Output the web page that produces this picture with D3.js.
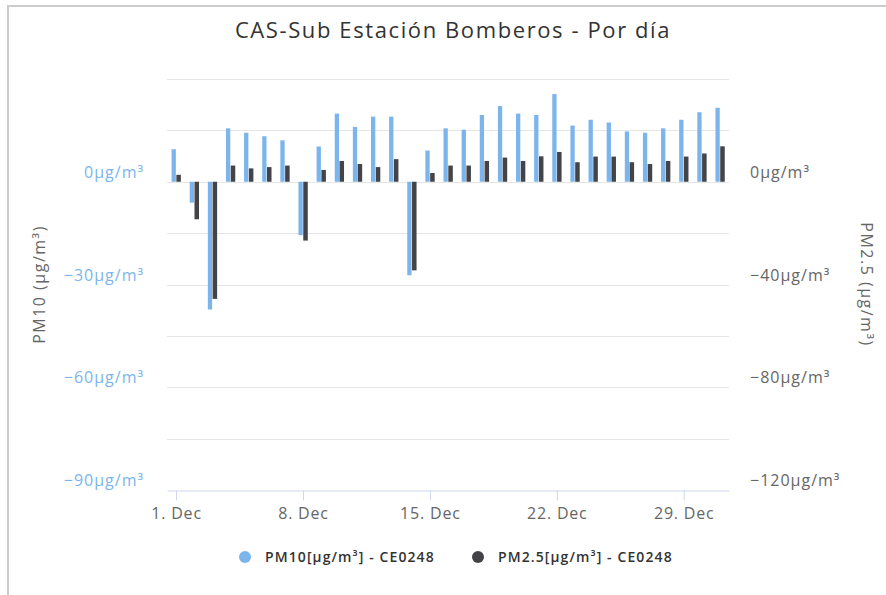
<!DOCTYPE html>
<html>
<head>
<meta charset="utf-8">
<script src="https://cdn.jsdelivr.net/npm/d3@7"></script>
<style>
  body { margin: 0; background: #fff; }
  text { font-family: "Open Sans", "DejaVu Sans", sans-serif; }
</style>
</head>
<body>
<script>
// days of December
const days = [1, 2, 3, 4, 5, 6, 7, 8, 9, 10, 11, 12, 13, 14, 15, 16,
              17, 18, 19, 20, 21, 22, 23, 24, 25, 26, 27, 28, 29, 30, 31]
const pm10 = [9.5, -6.1, -37.3, 15.6, 14.3, 13.3, 12.1, -15.6, 10.3, 19.9, 16.0,
              19.0, 19.0, -27.3, 9.1, 15.6, 15.2, 19.5, 22.1, 19.9, 19.5, 25.6,
              16.4, 18.1, 17.3, 14.7, 14.3, 15.6, 18.1, 20.3, 21.6]
const pm25 = [2.7, -14.6, -45.6, 6.3, 5.2, 5.7, 6.3, -22.9, 4.6, 8.1, 6.9, 5.7,
              8.8, -34.5, 3.4, 6.3, 6.3, 8.1, 9.4, 8.1, 9.9, 11.6, 7.6, 9.8, 9.8,
              7.6, 6.9, 8.1, 9.8, 11.0, 13.8]
const xTickDays = [1, 8, 15, 22, 29]
const leftTicks = [0, -30, -60, -90]
const rightTicks = [0, -40, -80, -120]
const gridTicks = [30, 15, 0, -15, -30, -45, -60, -75, -90]
const seriesNames = ["PM10[µg/m³] - CE0248", "PM2.5[µg/m³] - CE0248"]
const colors = ["#7cb5ec", "#434348"]

const width = 886, height = 595
const margin = {top: 79, right: 157, bottom: 105, left: 167}

const svg = d3.select("body").append("svg")
  .attr("width", width)
  .attr("height", height)

// frame
svg.append("path")
  .attr("d", "M8,600 V6 H900")
  .attr("fill", "none")
  .attr("stroke", "#cccccc")
  .attr("stroke-width", 2)

const day = d => new Date(Date.UTC(2019, 11, d, 12))

const xScale = d3.scaleUtc()
  .domain([new Date(Date.UTC(2019, 11, 1, 0)), new Date(Date.UTC(2019, 11, 32, 0))])
  .range([margin.left, width - margin.right])

const yLeft = d3.scaleLinear()
  .domain([-90, 30])
  .range([height - margin.bottom, margin.top])

const yRight = d3.scaleLinear()
  .domain([-120, 40])
  .range([height - margin.bottom, margin.top])

// grid
svg.append("g")
  .selectAll("line")
  .data(gridTicks.filter(d => d > -90))
  .join("line")
  .attr("x1", margin.left)
  .attr("x2", width - margin.right)
  .attr("y1", d => Math.round(yLeft(d)) + 0.5)
  .attr("y2", d => Math.round(yLeft(d)) + 0.5)
  .attr("stroke", "#e6e6e6")

const fmt = d => (d < 0 ? "−" + Math.abs(d) : d) + "µg/m³"

// left labels
svg.append("g")
  .selectAll("text")
  .data(leftTicks)
  .join("text")
  .attr("x", 144)
  .attr("y", d => yLeft(d) - 4)
  .attr("text-anchor", "end")
  .attr("fill", "#7cb5ec")
  .style("font-size", "16px")
  .style("letter-spacing", "1px")
  .text(fmt)

// right labels
svg.append("g")
  .selectAll("text")
  .data(rightTicks)
  .join("text")
  .attr("x", 750)
  .attr("y", d => yRight(d) - 4)
  .attr("text-anchor", "start")
  .attr("fill", "#666666")
  .style("font-size", "16px")
  .style("letter-spacing", "1px")
  .text(fmt)

// axis titles
const midY = margin.top + (height - margin.bottom - margin.top) / 2
svg.append("text")
  .attr("transform", "translate(45," + midY + ") rotate(-90)")
  .attr("text-anchor", "middle")
  .attr("fill", "#666666")
  .style("font-size", "16px")
  .style("letter-spacing", "1.5px")
  .text("PM10 (µg/m³)")

svg.append("text")
  .attr("transform", "translate(861," + midY + ") rotate(90)")
  .attr("text-anchor", "middle")
  .attr("fill", "#666666")
  .style("font-size", "16px")
  .style("letter-spacing", "1.5px")
  .text("PM2.5 (µg/m³)")

// x axis
const xAxis = svg.append("g")
  .attr("transform", "translate(0," + (height - margin.bottom + 0.5) + ")")
  .call(d3.axisBottom(xScale)
    .tickValues(xTickDays.map(day))
    .tickFormat(d3.utcFormat("%-d. %b"))
    .tickSize(10)
    .tickSizeOuter(0))
xAxis.select(".domain").attr("stroke", "#ccd6eb")
xAxis.selectAll(".tick line").attr("stroke", "#ccd6eb")
xAxis.selectAll(".tick text")
  .attr("fill", "#666666")
  .attr("dy", "0.95em")
  .style("font-size", "16px")
  .style("letter-spacing", "0.8px")
  .style("font-family", "'Open Sans', sans-serif")

// bars
const bars = svg.append("g")
bars.selectAll("rect.pm10")
  .data(days)
  .join("rect")
  .attr("class", "pm10")
  .attr("x", (d, i) => xScale(day(d)) - 4.5)
  .attr("width", 4.3)
  .attr("y", (d, i) => Math.min(yLeft(pm10[i]), yLeft(0)))
  .attr("height", (d, i) => Math.abs(yLeft(pm10[i]) - yLeft(0)))
  .attr("fill", colors[0])

bars.selectAll("rect.pm25")
  .data(days)
  .join("rect")
  .attr("class", "pm25")
  .attr("x", (d, i) => xScale(day(d)) + 0.3)
  .attr("width", 4.5)
  .attr("y", (d, i) => Math.min(yRight(pm25[i]), yRight(0)))
  .attr("height", (d, i) => Math.abs(yRight(pm25[i]) - yRight(0)))
  .attr("fill", colors[1])

// title
svg.append("text")
  .attr("x", 453)
  .attr("y", 38)
  .attr("text-anchor", "middle")
  .attr("fill", "#333333")
  .style("font-size", "22px")
  .style("letter-spacing", "1.6px")
  .text("CAS-Sub Estación Bomberos - Por día")

// legend
const legendX = [245, 478]
const legend = svg.append("g")
seriesNames.forEach(function(name, i) {
  legend.append("circle")
    .attr("cx", legendX[i])
    .attr("cy", 557)
    .attr("r", 6)
    .attr("fill", colors[i])
  legend.append("text")
    .attr("x", legendX[i] + 20)
    .attr("y", 562)
    .attr("fill", "#333333")
    .style("font-size", "14px")
    .style("font-weight", "600")
    .style("letter-spacing", "1.1px")
    .text(name)
})
</script>
</body>
</html>
